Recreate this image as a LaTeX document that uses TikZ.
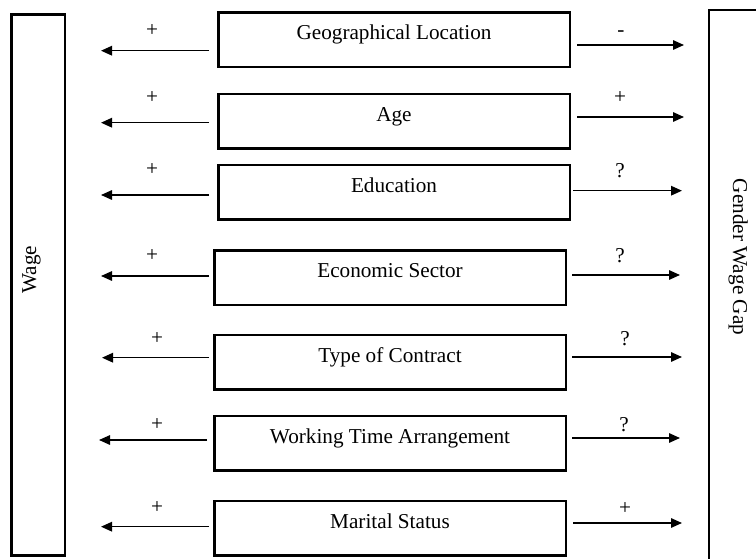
\documentclass[tikz,border=0pt]{standalone}
\usepackage{fontspec}
\setmainfont{Liberation Serif}
\usetikzlibrary{arrows.meta,calc}
\begin{document}
\begin{tikzpicture}[x=1pt,y=-1pt,
  txt/.style={font=\fontsize{21.2}{25}\selectfont},
  factor/.style={txt, draw, line width=2.5pt, minimum width=351.5pt,
    minimum height=54.5pt, inner sep=0pt, text height=8pt, text depth=8pt},
  outcome/.style={draw, inner sep=0pt},
  sign/.style={txt, inner sep=0pt},
  arr/.style={line width=1.5pt, -{Triangle[length=11pt,width=9.5pt]}}
]
\useasboundingbox (0,0) rectangle (756,558);
\clip (0,0) rectangle (756,558);

% outcome boxes on both sides
\node[outcome, line width=2.5pt, minimum width=53.5pt, minimum height=541.3pt] (wage) at (38,284.9) {};
\node[txt, rotate=90, anchor=base] (wagetext) at (36,269.5) {Wage};
\node[outcome, line width=2.2pt, minimum width=80pt, minimum height=590pt] (gap) at (749.2,305.2) {};
\node[txt, rotate=-90, anchor=base] (gaptext) at (733,257) {Gender Wage Gap};

% explanatory factors
\node[factor] (geo)  at (394,39.7)  {Geographical Location};
\node[factor] (age)  at (394,121)   {Age};
\node[factor] (edu)  at (394,192)   {Education};
\node[factor] (eco)  at (390,277.7) {Economic Sector};
\node[factor] (con)  at (390,362)   {Type of Contract};
\node[factor] (work) at (390,443)   {Working Time Arrangement};
\node[factor] (mar)  at (390,528.3) {Marital Status};

% effects on the wage
\draw[arr] ($(geo.west)+(-8,11)$)    -- ++(-108,0);
\draw[arr] ($(age.west)+(-8,1.7)$)   -- ++(-108,0);
\draw[arr] ($(edu.west)+(-8,3)$)     -- ++(-108,0);
\draw[arr] ($(eco.west)+(-4,-1.7)$)  -- ++(-108,0);
\draw[arr] ($(con.west)+(-4,-4.3)$)  -- ++(-107,0);
\draw[arr] ($(work.west)+(-6,-3)$)   -- ++(-108,0);
\draw[arr] ($(mar.west)+(-4,-1.6)$)  -- ++(-108,0);

\node[sign] (lgeo)  at (152,31)  {+};
\node[sign] (lage)  at (152,98)  {+};
\node[sign] (ledu)  at (152,170) {+};
\node[sign] (leco)  at (152,256) {+};
\node[sign] (lcon)  at (157,339) {+};
\node[sign] (lwork) at (157,425) {+};
\node[sign] (lmar)  at (157,508) {+};

% effects on the gender wage gap
\draw[arr] ($(geo.east)+(6,5.3)$)    -- ++(107,0);
\draw[arr] ($(age.east)+(6,-4)$)     -- ++(107,0);
\draw[arr] ($(edu.east)+(2,-1.3)$)   -- ++(109,0);
\draw[arr] ($(eco.east)+(5,-2.7)$)   -- ++(108,0);
\draw[arr] ($(con.east)+(5,-5)$)     -- ++(110,0);
\draw[arr] ($(work.east)+(5,-5)$)    -- ++(108,0);
\draw[arr] ($(mar.east)+(6,-5.3)$)   -- ++(109,0);

\node[sign] (rgeo)  at (621,33.5) {-};
\node[sign] (rage)  at (620,98)   {+};
\node[sign] (redu)  at (620,170.7){?};
\node[sign] (reco)  at (620,256)  {?};
\node[sign] (rcon)  at (625,339)  {?};
\node[sign] (rwork) at (624,425)  {?};
\node[sign] (rmar)  at (625,509)  {+};
\end{tikzpicture}
\end{document}
